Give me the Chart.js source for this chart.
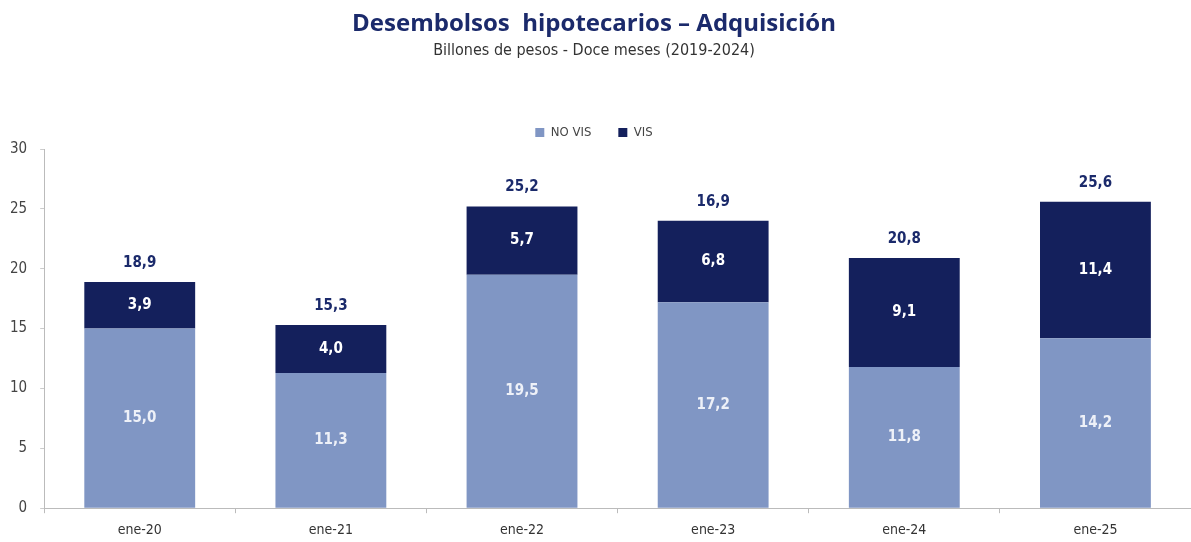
<!DOCTYPE html>
<html>
<head>
<meta charset="utf-8">
<script src="https://cdn.jsdelivr.net/npm/chart.js@4"></script>
<style>
  body { margin: 0; background: #fff; }
  #wrap { width: 1191px; height: 542px; position: relative; }
</style>
</head>
<body>
<div id="wrap"><canvas id="myChart"></canvas></div>
<script>
const categories = ['ene-20', 'ene-21', 'ene-22', 'ene-23', 'ene-24', 'ene-25'];
const noVis = [15.0, 11.3, 19.5, 17.2, 11.8, 14.2];
const vis = [3.9, 4.0, 5.7, 6.8, 9.1, 11.4];
// total labels as printed above each bar
const totalLabels = ['18,9', '15,3', '25,2', '16,9', '20,8', '25,6'];
const yTicks = [0, 5, 10, 15, 20, 25, 30];

const fmt = v => v.toFixed(1).replace('.', ',');
const narrow = '"DejaVu Sans Condensed", "Liberation Sans Narrow", sans-serif';

const labelPlugin = {
  id: 'barLabels',
  afterDatasetsDraw(chart) {
    const c = chart.ctx;
    c.save();
    c.textAlign = 'center';
    c.textBaseline = 'middle';
    chart.data.datasets.forEach((ds, i) => {
      chart.getDatasetMeta(i).data.forEach((bar, j) => {
        const mid = (bar.y + bar.base) / 2;
        c.fillStyle = i === 0 ? '#eef1f8' : '#ffffff';
        c.font = 'bold 15px ' + narrow;
        c.fillText(fmt(ds.data[j]), bar.x, mid);
      });
    });
    const top = chart.getDatasetMeta(1).data;
    top.forEach((bar, j) => {
      c.fillStyle = '#1b2a6b';
      c.font = 'bold 15px ' + narrow;
      c.fillText(totalLabels[j], bar.x, bar.y - 19);
    });
    c.restore();
  }
};

const ctx = document.getElementById('myChart');

new Chart(ctx, {
  type: 'bar',
  data: {
    labels: categories,
    datasets: [{
      label: 'NO VIS',
      data: noVis,
      backgroundColor: '#8096c4',
      categoryPercentage: 1,
      barPercentage: 0.58
    }, {
      label: 'VIS',
      data: vis,
      backgroundColor: '#14205c',
      categoryPercentage: 1,
      barPercentage: 0.58
    }]
  },
  options: {
    responsive: true,
    maintainAspectRatio: false,
    animation: false,
    layout: { padding: { left: -3, right: 0, top: 4, bottom: -6 } },
    plugins: {
      title: {
        display: true,
        text: 'Desembolsos  hipotecarios – Adquisición',
        color: '#1b2a6b',
        font: { family: '"Open Sans", sans-serif', size: 24, weight: 'bold' },
        padding: { top: 6, bottom: 2 }
      },
      subtitle: {
        display: true,
        text: 'Billones de pesos - Doce meses (2019-2024)',
        color: '#333',
        font: { family: narrow, size: 16 },
        padding: { bottom: 39 }
      },
      legend: {
        position: 'top',
        labels: {
          boxWidth: 9,
          boxHeight: 9,
          color: '#444',
          padding: 27,
          font: { family: narrow, size: 13 }
        }
      },
      tooltip: { enabled: false }
    },
    scales: {
      x: {
        stacked: true,
        grid: { display: true, drawOnChartArea: false, offset: true, tickLength: 5, color: '#bbb' },
        border: { color: '#bbb' },
        ticks: {
          color: '#333',
          padding: 9,
          font: { family: narrow, size: 14 }
        }
      },
      y: {
        stacked: true,
        min: 0,
        max: 30,
        afterBuildTicks: axis => { axis.ticks = yTicks.map(v => ({ value: v })); },
        grid: { display: true, drawOnChartArea: false, tickLength: 4, color: '#ccc' },
        border: { color: '#bbb' },
        ticks: {
          color: '#444',
          padding: 13,
          font: { family: narrow, size: 15 }
        }
      }
    }
  },
  plugins: [labelPlugin]
});
</script>
</body>
</html>
